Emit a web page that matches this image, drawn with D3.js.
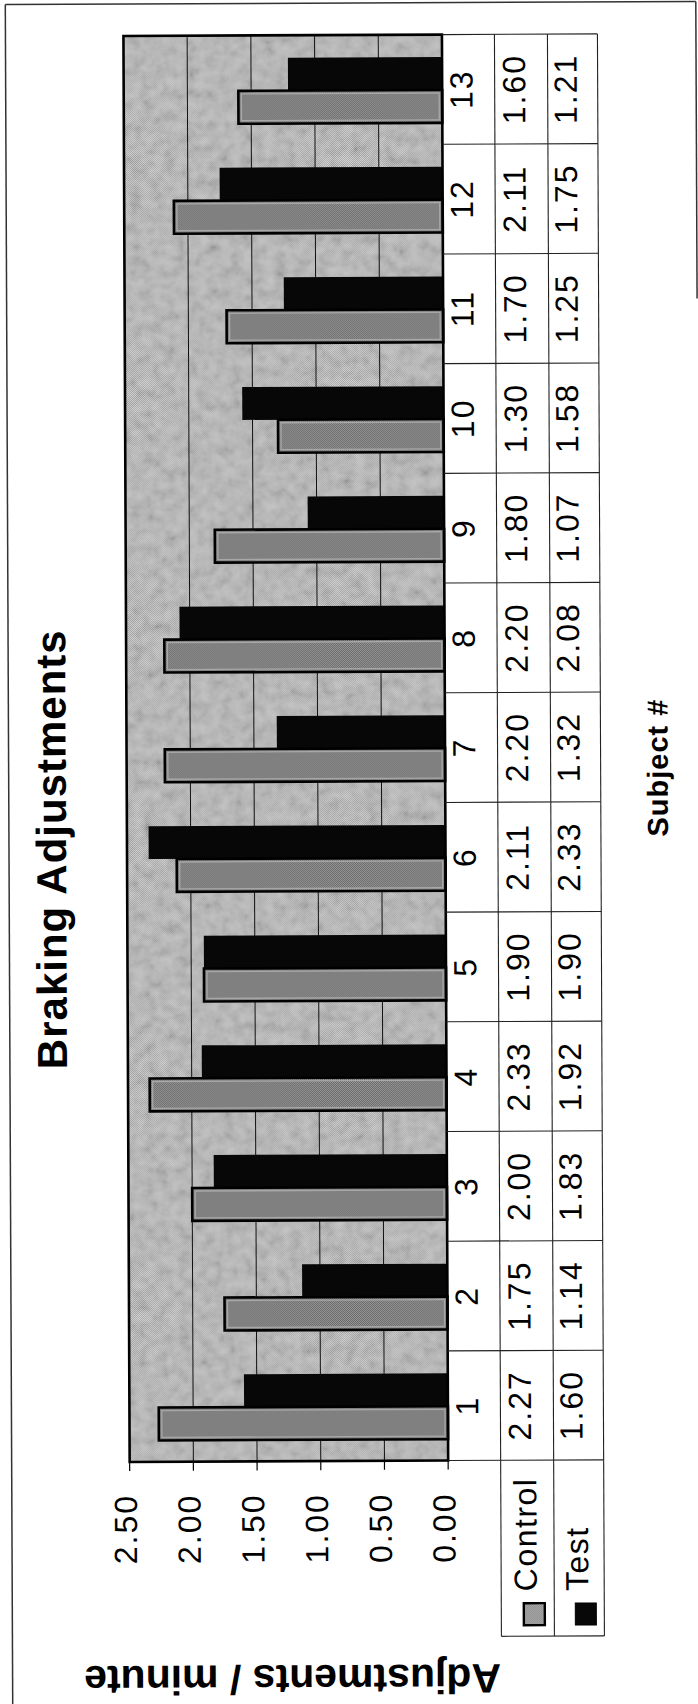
<!DOCTYPE html>
<html>
<head>
<meta charset="utf-8">
<script src="https://cdn.jsdelivr.net/npm/d3@7"></script>
<style>
  html, body { margin: 0; padding: 0; background: #fff; }
  svg { display: block; }
</style>
</head>
<body>
<script>
// ---- data ----
const categories = ["1", "2", "3", "4", "5", "6", "7", "8", "9", "10", "11", "12", "13"];
const controlValues = [2.27, 1.75, 2.00, 2.33, 1.90, 2.11, 2.20, 2.20, 1.80, 1.30, 1.70, 2.11, 1.60];
const testValues = [1.60, 1.14, 1.83, 1.92, 1.90, 2.33, 1.32, 2.08, 1.07, 1.58, 1.25, 1.75, 1.21];
const seriesNames = ["Control", "Test"];
const valueTicks = [0, 0.5, 1.0, 1.5, 2.0, 2.5];
const chartTitle = "Braking Adjustments";
const valueAxisTitle = "Adjustments / minute";
const categoryAxisTitle = "Subject #";

// ---- layout (chart is printed sideways: categories run up the page) ----
const W = 698, H = 1704;
const plot = { left: 127, right: 445.5, top: 35, bottom: 1461 };
const tableCols = [445.5, 498, 551, 601];   // category row, Control row, Test row
const legendBottom = 1637;
const FONT = "'Liberation Sans', Arial, Helvetica, sans-serif";

const svg = d3.select("body").append("svg")
  .attr("width", W).attr("height", H)
  .attr("viewBox", `0 0 ${W} ${H}`);

const defs = svg.append("defs");

// two-tone halftone fills
function checker(id, a, b) {
  const p = defs.append("pattern").attr("id", id)
    .attr("width", 2).attr("height", 2).attr("patternUnits", "userSpaceOnUse");
  p.append("rect").attr("width", 2).attr("height", 2).attr("fill", a);
  p.append("rect").attr("width", 1).attr("height", 1).attr("fill", b);
  p.append("rect").attr("x", 1).attr("y", 1).attr("width", 1).attr("height", 1).attr("fill", b);
}
checker("bgFill", "#cecece", "#9e9e9e");
checker("ctrlFill", "#989898", "#686868");
checker("ctrlSwatch", "#bdbdbd", "#7a7a7a");

// print texture over the plot background
const grain = defs.append("filter").attr("id", "grain")
  .attr("x", 0).attr("y", 0).attr("width", 1).attr("height", 1);
grain.append("feTurbulence").attr("type", "fractalNoise")
  .attr("baseFrequency", "0.09").attr("numOctaves", 3).attr("seed", 11).attr("result", "n");
grain.append("feColorMatrix").attr("in", "n").attr("type", "matrix")
  .attr("values", "1.3 0 0 0 -0.15  1.3 0 0 0 -0.15  1.3 0 0 0 -0.15  0 0 0 0 0.18")
  .attr("result", "g");
grain.append("feComposite").attr("in", "g").attr("in2", "SourceGraphic").attr("operator", "in");

// the printed sheet sits very slightly askew
const root = svg.append("g").attr("transform", "rotate(-0.25, 349, 852)");

// ---- scales ----
const x = d3.scaleLinear().domain([0, 2.5]).range([plot.right, plot.left]);
const y = d3.scaleBand().domain(categories).range([plot.bottom, plot.top]);
const bw = y.bandwidth();
const barW = bw * 0.3;
const groupOffset = bw * 0.205;

// ---- outer chart frame ----
const frame = root.append("g").attr("stroke", "#333").attr("stroke-width", 1.5).attr("fill", "none");
frame.append("line").attr("x1", 9).attr("x2", 9).attr("y1", 3).attr("y2", H + 10);
frame.append("line").attr("x1", 9).attr("x2", 699.5).attr("y1", 3).attr("y2", 3);
frame.append("line").attr("x1", 699.5).attr("x2", 699.5).attr("y1", 3).attr("y2", 300);

// ---- plot area ----
root.append("rect")
  .attr("x", plot.left).attr("y", plot.top)
  .attr("width", plot.right - plot.left).attr("height", plot.bottom - plot.top)
  .attr("fill", "url(#bgFill)");
root.append("rect")
  .attr("x", plot.left).attr("y", plot.top)
  .attr("width", plot.right - plot.left).attr("height", plot.bottom - plot.top)
  .attr("fill", "#000").attr("filter", "url(#grain)");

// gridlines
root.append("g").selectAll("line")
  .data(valueTicks.filter(v => v > 0 && v < 2.5))
  .join("line")
  .attr("x1", d => x(d)).attr("x2", d => x(d))
  .attr("y1", plot.top).attr("y2", plot.bottom)
  .attr("stroke", "#111").attr("stroke-width", 1);

// bars
const rows = categories.map((c, i) => ({ c, control: controlValues[i], test: testValues[i] }));
const bars = root.append("g");
// Test series (upper bar of each pair)
bars.selectAll("rect.test").data(rows).join("rect")
  .attr("class", "test")
  .attr("x", d => x(d.test))
  .attr("y", d => y(d.c) + groupOffset)
  .attr("width", d => x(0) - x(d.test))
  .attr("height", barW)
  .attr("fill", "#070707");
// Control series (lower bar of each pair)
bars.selectAll("rect.ctrl").data(rows).join("rect")
  .attr("class", "ctrl")
  .attr("x", d => x(d.control))
  .attr("y", d => y(d.c) + groupOffset + barW)
  .attr("width", d => x(0) - x(d.control))
  .attr("height", barW)
  .attr("fill", "url(#ctrlFill)")
  .attr("stroke", "#000").attr("stroke-width", 2.6);
bars.selectAll("rect.ctrlRim").data(rows).join("rect")
  .attr("class", "ctrlRim")
  .attr("x", d => x(d.control) + 3)
  .attr("y", d => y(d.c) + groupOffset + barW + 3)
  .attr("width", d => x(0) - x(d.control) - 6)
  .attr("height", barW - 6)
  .attr("fill", "none")
  .attr("stroke", "#a8a8a8").attr("stroke-width", 1.3);

// plot border
root.append("rect")
  .attr("x", plot.left).attr("y", plot.top)
  .attr("width", plot.right - plot.left).attr("height", plot.bottom - plot.top)
  .attr("fill", "none").attr("stroke", "#000").attr("stroke-width", 2.6);

// ---- value axis (ticks + labels below the plot) ----
const axis = root.append("g");
axis.selectAll("line").data(valueTicks).join("line")
  .attr("x1", d => x(d)).attr("x2", d => x(d))
  .attr("y1", plot.bottom).attr("y2", plot.bottom + 9)
  .attr("stroke", "#000").attr("stroke-width", 1.2);
axis.selectAll("text").data(valueTicks).join("text")
  .attr("transform", d => `translate(${x(d) + 7},${plot.bottom + 32}) rotate(-90)`)
  .attr("text-anchor", "end")
  .attr("font-family", FONT).attr("font-size", 32).attr("letter-spacing", 2)
  .attr("fill", "#000")
  .text(d3.format(".2f"));

// ---- data table ----
const table = root.append("g").attr("stroke", "#222").attr("stroke-width", 1.1).attr("fill", "none");
// row separators between categories
const bounds = categories.map(c => y(c)).concat([plot.bottom]);
table.selectAll("line.sep").data(bounds).join("line")
  .attr("class", "sep")
  .attr("x1", tableCols[0]).attr("x2", tableCols[3])
  .attr("y1", d => d).attr("y2", d => d);
// column lines
[1, 2, 3].forEach(k => {
  table.append("line").attr("x1", tableCols[k]).attr("x2", tableCols[k])
    .attr("y1", plot.top).attr("y2", legendBottom);
});
table.append("line").attr("x1", tableCols[1]).attr("x2", tableCols[3]).attr("y1", legendBottom).attr("y2", legendBottom);

const colText = (colIdx) => (tableCols[colIdx] + tableCols[colIdx + 1]) / 2 + 4;
const cellText = root.append("g")
  .attr("font-family", FONT).attr("font-size", 32).attr("letter-spacing", 2)
  .attr("fill", "#000").attr("text-anchor", "middle");
const tableRows = [
  { col: 0, values: categories },
  { col: 1, values: controlValues.map(d3.format(".2f")) },
  { col: 2, values: testValues.map(d3.format(".2f")) }
];
tableRows.forEach(r => {
  cellText.append("g").selectAll("text").data(r.values).join("text")
    .attr("transform", (d, i) => `translate(${colText(r.col)},${y(categories[i]) + bw / 2}) rotate(-90)`)
    .text(d => d);
});

// legend keys in the table
const legendY = 1592;
seriesNames.forEach((name, i) => {
  const cx = (tableCols[i + 1] + tableCols[i + 2]) / 2 + 9;
  root.append("text")
    .attr("transform", `translate(${cx},${legendY}) rotate(-90)`)
    .attr("text-anchor", "start")
    .attr("font-family", FONT).attr("font-size", 32).attr("letter-spacing", 1.5)
    .attr("fill", "#000")
    .text(name);
  const sx = (tableCols[i + 1] + tableCols[i + 2]) / 2 - 4;
  root.append("rect")
    .attr("x", sx).attr("y", 1604)
    .attr("width", 21).attr("height", 22)
    .attr("fill", i === 0 ? "url(#ctrlSwatch)" : "#080808")
    .attr("stroke", "#000").attr("stroke-width", i === 0 ? 2.4 : 1);
});

// ---- titles ----
root.append("text")
  .attr("transform", `translate(66,848) rotate(-90)`)
  .attr("text-anchor", "middle")
  .attr("font-family", FONT).attr("font-weight", "bold")
  .attr("font-size", 42).attr("letter-spacing", 1)
  .attr("fill", "#000")
  .text(chartTitle);

root.append("text")
  .attr("transform", `translate(289,1665) rotate(180)`)
  .attr("text-anchor", "middle")
  .attr("font-family", FONT).attr("font-weight", "bold")
  .attr("font-size", 41)
  .attr("fill", "#000")
  .text(valueAxisTitle);

root.append("text")
  .attr("transform", `translate(668,769) rotate(-90)`)
  .attr("text-anchor", "middle")
  .attr("font-family", FONT).attr("font-weight", "bold")
  .attr("font-size", 29).attr("letter-spacing", 1)
  .attr("fill", "#000")
  .text(categoryAxisTitle);
</script>
</body>
</html>
